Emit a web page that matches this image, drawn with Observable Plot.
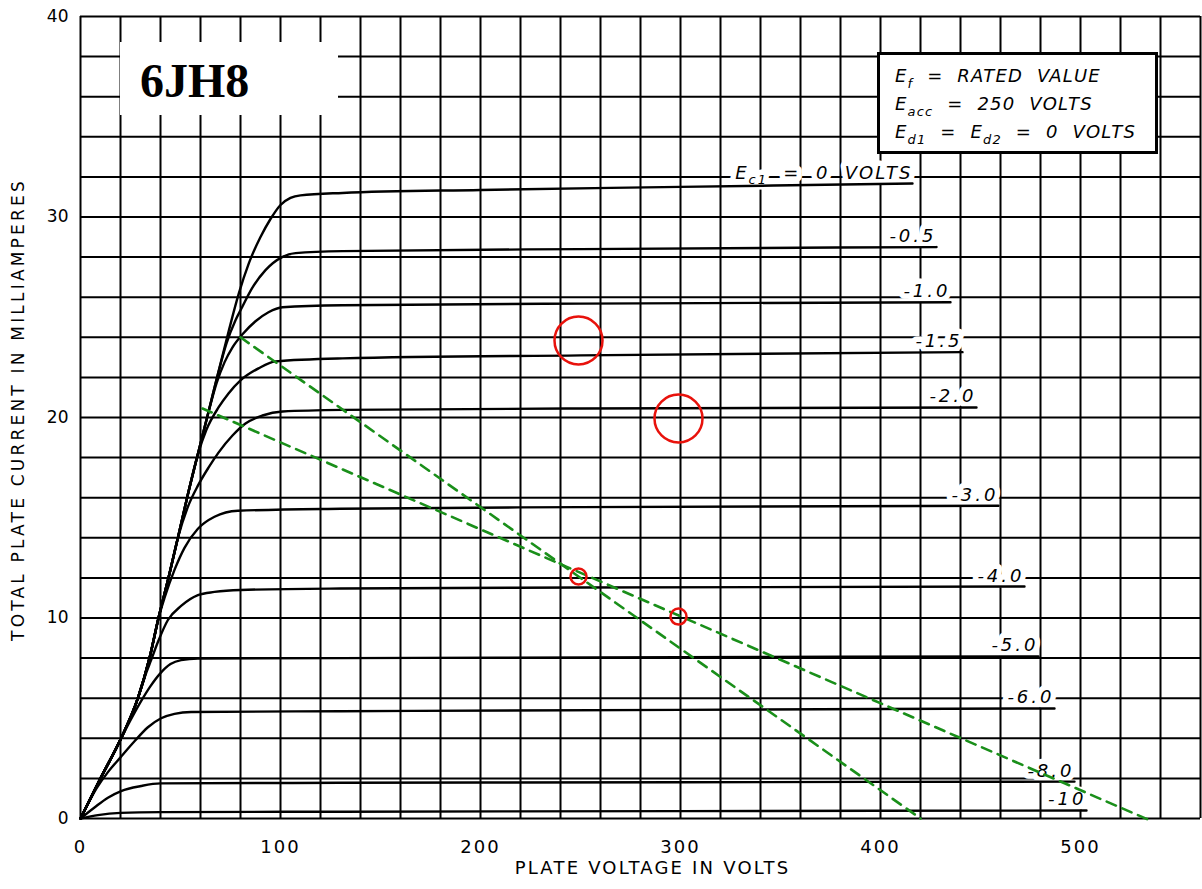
<!DOCTYPE html>
<html>
<head>
<meta charset="utf-8">
<script src="https://cdn.jsdelivr.net/npm/d3@7"></script>
<script src="https://cdn.jsdelivr.net/npm/@observablehq/plot@0.6"></script>
<style>
  html, body { margin: 0; padding: 0; background: #fff; }
  #wrap { position: relative; width: 1202px; height: 889px; overflow: hidden; background: #fff; }
  #wrap svg { position: absolute; left: 0; top: 0; }
  #title {
    position: absolute; left: 120px; top: 42px; width: 218px; height: 73px;
    background: #fff; box-sizing: border-box; padding-left: 20px; padding-top: 2px;
    font: bold 48px "Liberation Serif", "DejaVu Serif", serif; line-height: 73px; color: #000;
  }
  #legend {
    position: absolute; left: 877px; top: 52px; width: 281px; height: 102px;
    box-sizing: border-box; border: 3px solid #000; background: #fff;
    padding: 7px 0 0 15px;
    font: italic 18px "DejaVu Sans", sans-serif; color: #000; letter-spacing: 1.2px;
  }
  #legend .ln { height: 28px; line-height: 28px; white-space: pre; }
  #legend sub { font-size: 13px; vertical-align: -6px; line-height: 0; }
</style>
</head>
<body>
<div id="wrap">
  <div id="chart"></div>
  <div id="title">6JH8</div>
  <div id="legend">
    <div class="ln">E<sub>f</sub>  =  RATED  VALUE</div>
    <div class="ln">E<sub>acc</sub>  =  250  VOLTS</div>
    <div class="ln">E<sub>d1</sub>  =  E<sub>d2</sub>  =  0  VOLTS</div>
  </div>
</div>
<script>
// ---- axis ticks and grid ----
const xTicks = [0, 100, 200, 300, 400, 500];
const yTicks = [0, 10, 20, 30, 40];
const gridV = d3.range(0, 561, 20);   // plate volts grid
const gridH = d3.range(0, 41, 2);     // mA grid
const xLabel = "PLATE VOLTAGE IN VOLTS";
const yLabel = "TOTAL PLATE CURRENT IN MILLIAMPERES";

// ---- plate characteristic curves: [plate volts, mA] ----
const ec0   = [[0,0],[10,2.0],[20.3,4.0],[28.7,6.0],[34.5,8.0],[39,10.0],[44,12.0],[48.7,14.0],[53.3,16.0],[58.5,18.1],[63.3,20.0],[68.3,22.0],[74.2,24.35],[79.2,26.2],[84.2,27.7],[90,29.0],[95,29.9],[100,30.6],[105,30.95],[110,31.08],[131,31.2],[200,31.35],[300,31.5],[416,31.67]];
const ecM05 = [[0,0],[10,2.0],[20.3,4.0],[28.7,6.0],[34.5,8.0],[39,10.0],[44,12.0],[48.7,14.0],[53.3,16.0],[58.5,18.1],[63.3,20.0],[68.3,22.0],[73,23.7],[77.5,24.85],[80.8,25.5],[85.8,26.45],[92.5,27.35],[100.8,28.0],[107.5,28.2],[131,28.3],[250,28.4],[428,28.5]];
const ecM1  = [[0,0],[10,2.0],[20.3,4.0],[28.7,6.0],[34.5,8.0],[39,10.0],[44,12.0],[48.7,14.0],[53.3,16.0],[58.5,18.1],[63.3,20.0],[68,21.7],[72,22.75],[76,23.5],[81,24.15],[87.5,24.8],[94,25.25],[101,25.5],[131,25.6],[250,25.68],[435,25.75]];
const ecM15 = [[0,0],[10,2.0],[20.3,4.0],[28.7,6.0],[34.5,8.0],[39,10.0],[44,12.0],[48.7,14.0],[53.3,16.0],[58.5,18.1],[63,19.4],[69,20.5],[74,21.2],[80,21.85],[89,22.45],[97.5,22.8],[131,22.95],[250,23.1],[441,23.26]];
const ecM2  = [[0,0],[10,2.0],[20.3,4.0],[28.7,6.0],[34.5,8.0],[39,10.0],[44,12.0],[48.7,14.0],[53.5,15.5],[58.7,16.6],[64,17.5],[69,18.25],[76,19.1],[82.5,19.7],[91,20.1],[101,20.3],[131,20.38],[250,20.45],[448,20.5]];
const ecM3  = [[0,0],[10,2.0],[20.3,4.0],[28.7,6.0],[34.5,8.0],[39,10.0],[42,11.0],[47,12.4],[52,13.5],[58.7,14.45],[67,15.05],[78.7,15.35],[130,15.45],[250,15.53],[459,15.6]];
const ecM4  = [[0,0],[10,2.0],[20.3,4.0],[28.7,6.0],[33,7.3],[35.3,7.9],[38.7,8.8],[43.7,9.9],[50.3,10.6],[58.7,11.14],[67,11.3],[80,11.4],[130,11.47],[250,11.52],[472,11.57]];
const ecM5  = [[0,0],[10,2.0],[20.3,4.0],[25,4.9],[30,5.8],[35,6.6],[40,7.25],[45,7.7],[50.3,7.9],[58.7,7.98],[130,8.0],[300,8.05],[479,8.08]];
const ecM6  = [[0,0],[8,1.5],[14,2.35],[20,3.05],[27,3.85],[33.7,4.55],[40.3,5.0],[47,5.22],[55.3,5.31],[130,5.35],[300,5.42],[487,5.49]];
const ecM8  = [[0,0],[7,0.55],[13.7,1.04],[20.3,1.37],[30.3,1.62],[40,1.75],[130,1.78],[300,1.81],[497,1.84]];
const ecM10 = [[0,0],[8.7,0.17],[20,0.28],[40,0.32],[130,0.34],[300,0.37],[503,0.4]];

const curveLabels = ["Ec1 = 0 VOLTS","-0.5","-1.0","-1.5","-2.0","-3.0","-4.0","-5.0","-6.0","-8.0","-10"];
const curvePoints = [ec0, ecM05, ecM1, ecM15, ecM2, ecM3, ecM4, ecM5, ecM6, ecM8, ecM10];

// ---- load lines (green dashed) and operating points (red circles) ----
const loadLine1 = [[80,24],[420,0]];
const loadLine2 = [[61,20.45],[536,-0.15]];
const bigCircles = [[249,23.84],[299,19.95]];
const smallCircles = [[249,12.07],[299,10.07]];

// ---- tables built from the arrays ----
const rows = curvePoints.flatMap((pts, k) => pts.map(([v, i]) => ({v, i, k: curveLabels[k]})));
const ends = curvePoints.map((pts, k) => ({v: pts[pts.length-1][0], i: pts[pts.length-1][1], k: curveLabels[k]}));
const loads = [
  ...loadLine1.map(([v,i]) => ({v, i, k: "a"})),
  ...loadLine2.map(([v,i]) => ({v, i, k: "b"}))
];

const labelOpts = {x: "v", y: "i", text: "k", textAnchor: "end", lineAnchor: "bottom", dy: -5,
  fontStyle: "italic", fontSize: 18};

const chart = Plot.plot({
  width: 1202, height: 889,
  marginLeft: 80, marginRight: 2, marginTop: 16, marginBottom: 71,
  style: {fontFamily: "'DejaVu Sans', sans-serif", fontSize: "17px", color: "#000", background: "transparent", overflow: "visible"},
  x: {domain: [0, 560], ticks: xTicks, tickSize: 0, tickPadding: 22, tickFormat: d => String(d), label: null},
  y: {domain: [0, 40], ticks: yTicks, tickSize: 0, tickPadding: 12, tickFormat: d => String(d), label: null},
  marks: [
    Plot.ruleX(gridV, {stroke: "#000", strokeWidth: 2}),
    Plot.ruleY(gridH, {stroke: "#000", strokeWidth: 2}),
    // white halo behind the curve labels (hides grid lines, drawn under the curves)
    Plot.text(ends, {...labelOpts, fill: "#fff", stroke: "#fff", strokeWidth: 11, strokeLinejoin: "round"}),
    Plot.line(rows, {x: "v", y: "i", z: "k", curve: "monotone-x", stroke: "#000", strokeWidth: 2.4}),
    Plot.text(ends, {...labelOpts, fill: "#000"}),
    Plot.line(loads, {x: "v", y: "i", z: "k", stroke: "#1a8f1a", strokeWidth: 2.6, strokeDasharray: "10,7"}),
    Plot.dot(bigCircles, {x: d => d[0], y: d => d[1], r: 24, stroke: "#e8120c", strokeWidth: 2.5, fill: "none"}),
    Plot.dot(smallCircles, {x: d => d[0], y: d => d[1], r: 8, stroke: "#e8120c", strokeWidth: 2.5, fill: "none"}),
    Plot.text([xLabel], {frameAnchor: "bottom", dy: 55, dx: 12, text: d => d, fontSize: 18, textAnchor: "middle"}),
    Plot.text([yLabel], {frameAnchor: "left", dx: -62, dy: -8, rotate: -90, text: d => d, fontSize: 17, textAnchor: "middle"})
  ]
});
document.getElementById("chart").appendChild(chart);

// ---- text styling touches ----
const svg = d3.select(chart);
svg.selectAll("text").each(function() {
  const t = this.textContent;
  if (t === xLabel) d3.select(this).style("letter-spacing", "2.2px");
  if (t === yLabel) d3.select(this).style("letter-spacing", "3.2px");
  if (curveLabels.includes(t)) d3.select(this).style("letter-spacing", "3px").style("white-space", "pre");
});
svg.selectAll('g[aria-label="x-axis tick label"] text').style("letter-spacing", "2px").style("font-size", "18px");
svg.selectAll("text").filter(function() { return this.textContent === "Ec1 = 0 VOLTS"; }).each(function() {
  const el = d3.select(this);
  el.text(null).style("letter-spacing", "2px");
  el.append("tspan").text("E");
  el.append("tspan").attr("dy", 5).style("font-size", "13px").text("c1");
  el.append("tspan").attr("dy", -5).text("  =  0  VOLTS");
});
</script>
</body>
</html>
